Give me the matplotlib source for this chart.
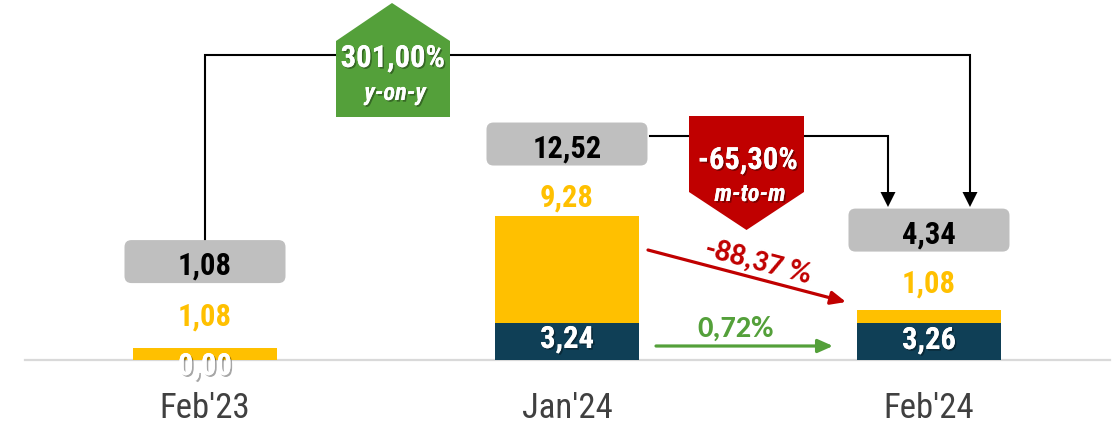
import matplotlib
matplotlib.use("Agg")
import matplotlib.pyplot as plt
from matplotlib.patches import FancyBboxPatch, Polygon, FancyArrowPatch
import matplotlib.patheffects as pe

# ---------------- data ----------------
categories = ["Feb'23", "Jan'24", "Feb'24"]
dark_values = [0.00, 3.24, 3.26]
yellow_values = [1.08, 9.28, 1.08]
totals = [1.08, 12.52, 4.34]
dark_labels = ["0,00", "3,24", "3,26"]
yellow_labels = ["1,08", "9,28", "1,08"]
total_labels = ["1,08", "12,52", "4,34"]
yoy_label = ["301,00%", "y-on-y"]
mom_label = ["-65,30%", "m-to-m"]
yellow_change_label = "-88,37 %"
dark_change_label = "0,72%"

# ---------------- style / layout ----------------
W, H = 1116, 427
DARK = '#0f3f56'
YELLOW = '#ffc000'
GREY_BOX = '#bfbfbf'
RED = '#c00000'
GREEN = '#54a03a'
NARROW = ['Roboto Condensed', 'DejaVu Sans']
CAL = ['Carlito', 'DejaVu Sans']

yellow_label_gap = [23, 11, 19]      # px above bar top (baseline)
box_center_gap = [86, 72, 80]        # px above bar top
dark_label_base = [376, 349, 350]    # baseline px from top

fig = plt.figure(figsize=(W / 100, H / 100), dpi=100)
ax = fig.add_axes([0, 0, 1, 1])
ax.set_xlim(-0.5663, 2.5166)
ax.set_ylim(-5.739, 31.391)
ax.axis('off')

xs = list(range(len(categories)))
ax.bar(xs, dark_values, width=0.399, color=DARK, zorder=2)
ax.bar(xs, yellow_values, bottom=dark_values, width=0.399, color=YELLOW, zorder=2)
ax.axhline(0, xmin=25 / W, xmax=1110 / W, color='#d9d9d9', lw=1.6, zorder=1)

ov = fig.add_axes([0, 0, 1, 1])
ov.set_xlim(0, W)
ov.set_ylim(H, 0)
ov.axis('off')
ov.patch.set_alpha(0)


def dp(xd, yd):
    X, Y = ax.transData.transform((xd, yd))
    return X, H - Y


shadow = [pe.withSimplePatchShadow(offset=(1.2, -1.2), shadow_rgbFace='k', alpha=0.35), pe.Normal()]

for i, cat in enumerate(categories):
    cx, top = dp(i, totals[i])
    # category
    ov.text(cx, 418, cat, ha='center', va='baseline', fontsize=25, color='#404040',
            family=NARROW)
    # dark label
    ov.text(cx, dark_label_base[i], dark_labels[i], ha='center', va='baseline', fontsize=22,
            color='white', fontweight='bold', family=NARROW, path_effects=shadow, zorder=5)
    # yellow label
    ov.text(cx, top - yellow_label_gap[i], yellow_labels[i], ha='center', va='baseline',
            fontsize=22, color=YELLOW, fontweight='bold', family=NARROW)
    # total box
    bc = top - box_center_gap[i]
    box = FancyBboxPatch((cx - 74, bc - 15), 148, 30,
                         boxstyle='round,pad=6.5,rounding_size=7',
                         fc=GREY_BOX, ec='none', zorder=3)
    ov.add_patch(box)
    ov.text(cx, bc + 12, total_labels[i], ha='center', va='baseline', fontsize=22,
            color='black', fontweight='bold', family=NARROW, zorder=4)

# connectors
x0, _ = dp(0, 0)
x2, _ = dp(2, 0)
lw = 1.5
ov.plot([x0, x0, x2 + 41, x2 + 41], [242, 56, 56, 195], color='black', lw=lw, zorder=2,
        solid_joinstyle='miter')
ov.plot([650, x2 - 41, x2 - 41], [137, 137, 195], color='black', lw=lw, zorder=2,
        solid_joinstyle='miter')
for ax_x in (x2 - 41, x2 + 41):
    ov.add_patch(Polygon([(ax_x - 7.5, 193), (ax_x + 7.5, 193), (ax_x, 208)],
                         closed=True, fc='black', ec='none', zorder=3))

# green pentagon (y-on-y)
ov.add_patch(Polygon([(336, 118), (336, 42), (392, 4), (450, 42), (450, 118)],
                     closed=True, fc=GREEN, ec='none', zorder=4))
ov.text(393, 68, yoy_label[0], ha='center', va='baseline', fontsize=22, color='white',
        fontweight='bold', family=NARROW, path_effects=shadow, zorder=5)
ov.text(395, 101, yoy_label[1], ha='center', va='baseline', fontsize=17.5, color='white',
        fontweight='bold', style='italic', family=NARROW, path_effects=shadow, zorder=5)

# red pentagon (m-to-m)
ov.add_patch(Polygon([(689, 117), (804, 117), (804, 193), (746.5, 231), (689, 193)],
                     closed=True, fc=RED, ec='none', zorder=4))
ov.text(748, 170, mom_label[0], ha='center', va='baseline', fontsize=22, color='white',
        fontweight='bold', family=NARROW, path_effects=shadow, zorder=5)
ov.text(750, 202, mom_label[1], ha='center', va='baseline', fontsize=17.5, color='white',
        fontweight='bold', style='italic', family=NARROW, path_effects=shadow, zorder=5)

# change arrows
ov.add_patch(FancyArrowPatch((648, 251), (846, 303), arrowstyle='-|>,head_length=9,head_width=4',
                             color=RED, lw=2.3, shrinkA=0, shrinkB=0, zorder=4))
ov.text(758, 262, yellow_change_label, ha='center', va='center', rotation=-14.8,
        rotation_mode='anchor', fontsize=22, color=RED, fontweight='bold', family=CAL)
ov.add_patch(FancyArrowPatch((656, 347), (833, 347), arrowstyle='-|>,head_length=9,head_width=4',
                             color=GREEN, lw=2.3, shrinkA=0, shrinkB=0, zorder=4))
ov.text(736, 337, dark_change_label, ha='center', va='baseline', fontsize=22, color=GREEN,
        fontweight='bold', family=CAL)

fig.savefig('out.png', dpi=100)
